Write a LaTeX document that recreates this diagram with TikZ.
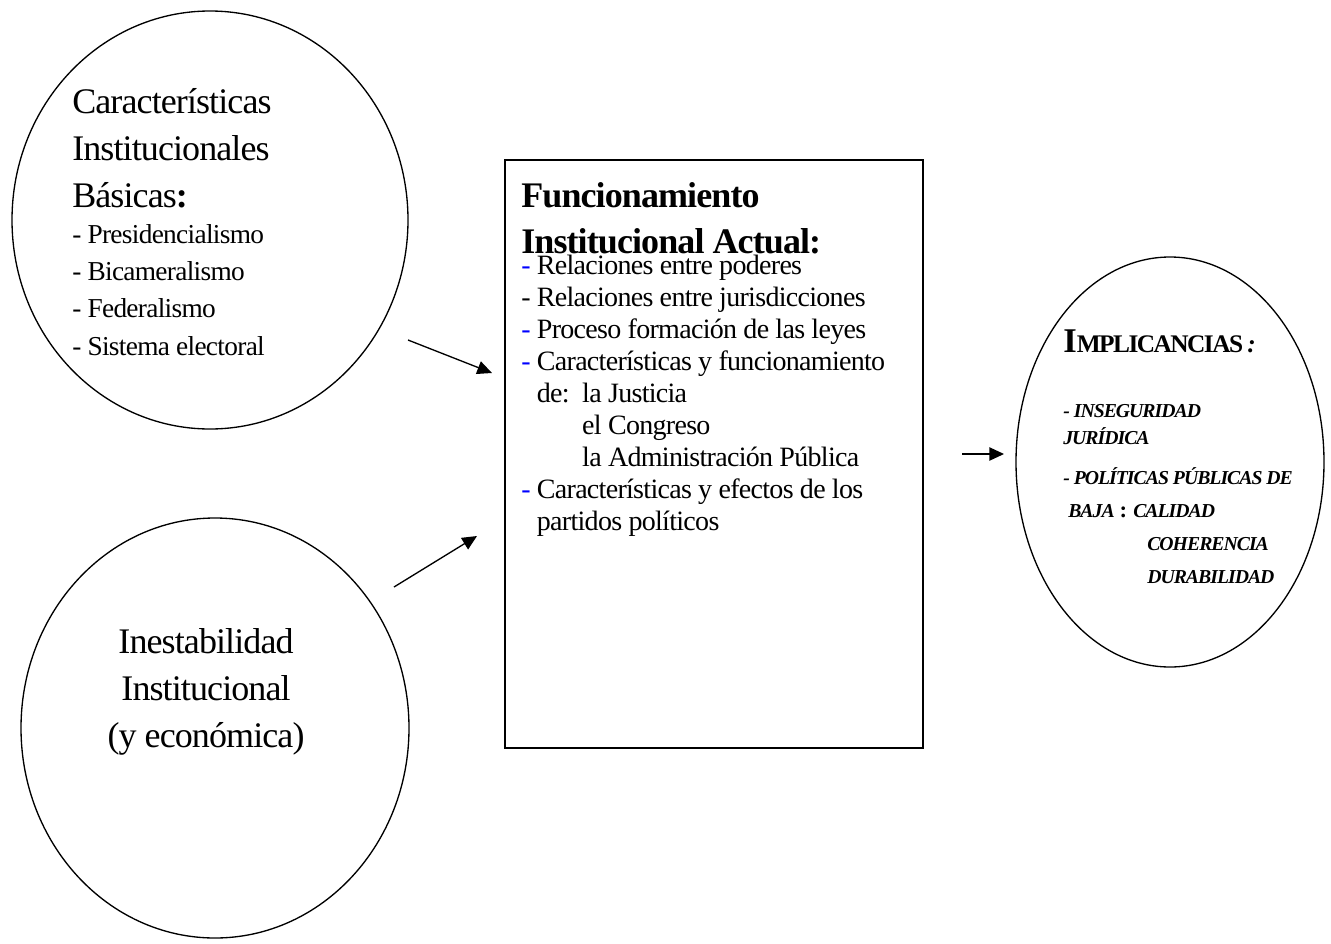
\documentclass[tikz,border=0pt]{standalone}
\usepackage{fontspec}
\setmainfont{Liberation Serif}[LetterSpace=-2.5]
\usetikzlibrary{arrows.meta}
\usetikzlibrary{positioning}
\usetikzlibrary{shapes.geometric}
\tikzset{
    blob/.style = {ellipse, draw=black, line width=1pt, inner sep=0pt},% globo
    panel/.style = {rectangle, draw=black, line width=1pt, inner sep=0pt},% recuadro central
    txt/.style = {align=left, inner sep=0pt, anchor=base west},% base = ultima linea
    txt_big/.style = {txt, font=\fontsize{27}{35}\selectfont},
    txt_list/.style = {txt, font=\fontsize{20.5}{28}\selectfont},
    txt_imp/.style = {txt, font=\bfseries\itshape\fontsize{14.8}{24.75}\selectfont\addfontfeature{LetterSpace=-5}},
    link/.style = {->, line width=1pt},
}
\newcommand{\bdash}{\textcolor{blue}{-}}

\begin{document}
\begin{tikzpicture}[x=0.75pt, y=-0.75pt, >={Triangle[length=11pt,width=10pt]}]
\useasboundingbox (0,0) rectangle (1331,943);
% globos y recuadro
\node [blob, minimum width=297pt, minimum height=313.5pt] (basicas) at (210,220) {};
\node [blob, minimum width=291pt, minimum height=315pt] (inestab) at (215,728) {};
\node [panel, minimum width=313.5pt, minimum height=441pt] (actual) at (714,454) {};
\node [blob, minimum width=231pt, minimum height=307.5pt] (implic) at (1170,462) {};
% textos
\node [txt_big] (basicas_t) at (72,207) {Características\\Institucionales\\Básicas\textbf{:}};
\node [txt_list] (basicas_l) at (72,355) {- Presidencialismo\\- Bicameralismo\\- Federalismo\\- Sistema electoral};
\node [txt_big, align=center, anchor=base] (inestab_t) at (206,747) {Inestabilidad\\ Institucional\\(y económica)};
\node [txt, font=\bfseries\fontsize{27}{34}\selectfont] (actual_h) at (521,253) {Funcionamiento\\Institucional Actual:};
\node [txt, font=\fontsize{21}{24}\selectfont] (actual_l) at (521,530) {\bdash{} Relaciones entre poderes\\
- Relaciones entre jurisdicciones\\
\bdash{} Proceso formación de las leyes\\
\bdash{} Características y funcionamiento\\
\hphantom{- }\makebox[34pt][l]{de:}la Justicia\\
\hphantom{- }\hspace*{34pt}el Congreso\\
\hphantom{- }\hspace*{34pt}la Administración Pública\\
\bdash{} Características y efectos de los\\
\hphantom{- }partidos políticos};
\node [txt, font=\bfseries\fontsize{19}{22}\selectfont\addfontfeature{LetterSpace=-6}] (implic_h) at (1063,352) {{\fontsize{26}{26}\selectfont I}MPLICANCIAS\,\textit{:}};
\node [txt_imp] (implic_l) at (1063,583) {- INSEGURIDAD\\[-4.5pt]
JURÍDICA\\[5.25pt]
- POLÍTICAS PÚBLICAS DE\\
\hspace*{3.75pt}\makebox[48.75pt][l]{BAJA\hfill{\upshape\fontsize{17}{20}\selectfont:}\hspace{4.5pt}}CALIDAD\\
\hspace*{63pt}COHERENCIA\\
\hspace*{63pt}DURABILIDAD};
% flechas
\coordinate (a1s) at (408,340);
\coordinate (a1e) at (492,373);
\coordinate (a2s) at (394,587);
\coordinate (a2e) at (477,536);
\coordinate (a3s) at (962,454);
\coordinate (a3e) at (1004,454);
\draw [link] (a1s) -- (a1e);
\draw [link] (a2s) -- (a2e);
\draw [link] (a3s) -- (a3e);
\end{tikzpicture}
\end{document}
